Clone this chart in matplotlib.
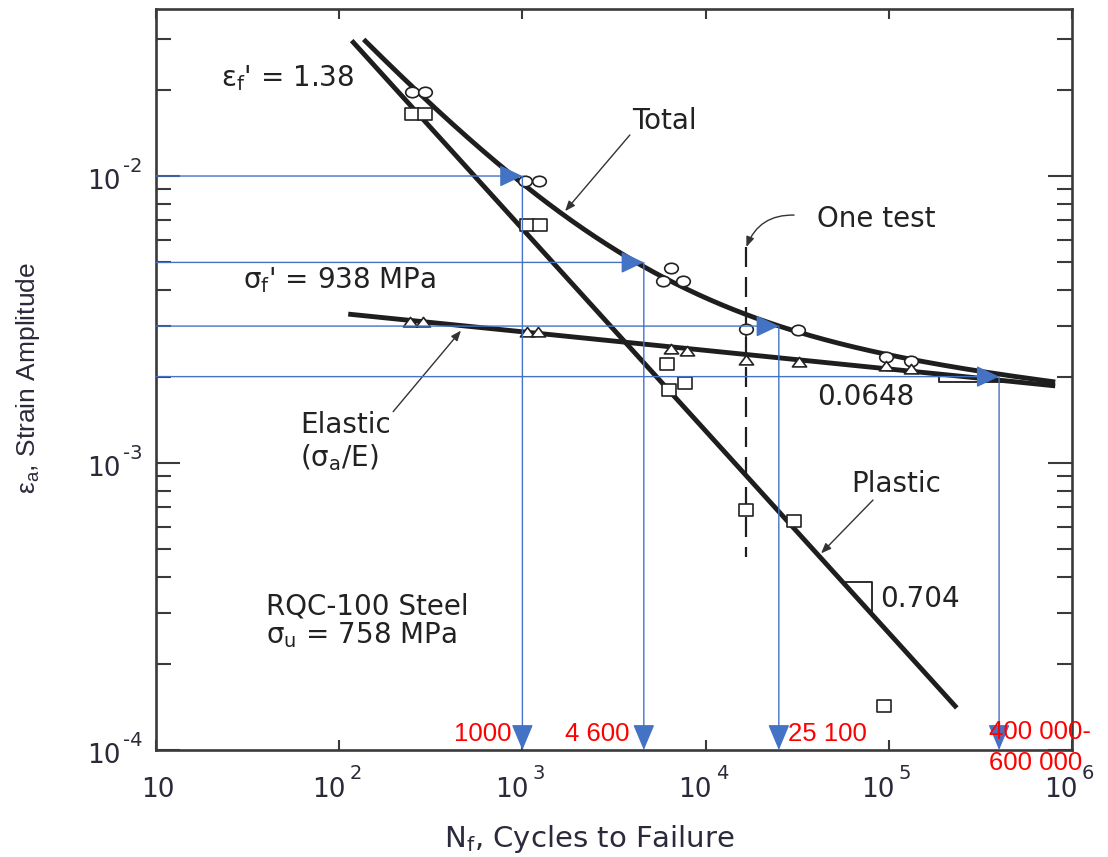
import numpy as np
import matplotlib
matplotlib.use("Agg")
import matplotlib.pyplot as plt
from matplotlib.path import Path
from matplotlib.ticker import LogLocator, NullFormatter, NullLocator

plt.rcParams["font.family"] = ["DejaVu Sans"]
plt.rcParams["mathtext.fontset"] = "dejavusans"

# --- RQC-100 steel strain-life constants ---------------------------------
E_MPA = 200000.0      # elastic modulus, MPa
SIGMA_F = 938.0       # fatigue strength coefficient, MPa
B_EXP = -0.0648       # fatigue strength exponent
EPS_F = 1.38          # fatigue ductility coefficient
C_EXP = -0.704        # fatigue ductility exponent

# --- test data: cycles to failure and strain amplitudes -------------------
total_N = [250, 294, 1030, 1230, 5850, 6470, 7530, 16700, 31900, 96600, 133000]
total_eps = [0.0196, 0.0196, 0.0096, 0.0096, 0.0043, 0.0048, 0.0043,
             0.00293, 0.0029, 0.00235, 0.00226]

plastic_N = [250, 294, 1060, 1250, 6140, 6310, 7730, 16700, 30200, 94200]
plastic_eps = [0.0165, 0.0165, 0.00675, 0.00675, 0.00221, 0.00179, 0.0019,
               0.000687, 0.000626, 0.000142]

elastic_N = [245, 287, 1057, 1209, 6470, 7960, 16700, 32300, 96600, 133000]
elastic_eps = [0.0031, 0.0031, 0.00285, 0.00285, 0.0025, 0.00245, 0.00229,
               0.00224, 0.00218, 0.00213]

# single test shown with its own marker column
one_test_N = 16700

# read-off levels (strain amplitude -> life)
read_eps = [0.01, 0.005, 0.003, 0.002]
read_N = [1000, 4600, 25100, 400000]

# axis ticks: base and exponent drawn separately
x_ticks = [10, 1e2, 1e3, 1e4, 1e5, 1e6]
x_tick_exp = ["", "2", "3", "4", "5", "6"]
y_ticks = [1e-4, 1e-3, 1e-2]
y_tick_exp = ["-4", "-3", "-2"]


def elastic(n):
    return SIGMA_F / E_MPA * (2.0 * np.asarray(n, dtype=float)) ** B_EXP


def plastic(n):
    return EPS_F * (2.0 * np.asarray(n, dtype=float)) ** C_EXP


def total(n):
    return elastic(n) + plastic(n)


INK = "#1e1e1e"
AXC = "#3a3a3a"
LAB = "#2a2a3a"
BLUE = "#4472C4"
RED = "#FF0000"

W, H = 1108, 857
fig = plt.figure(figsize=(W / 100, H / 100), dpi=100)
ax = fig.add_axes([156 / W, (H - 750) / H, 916 / W, (750 - 9.3) / H])
ax.set_xscale("log")
ax.set_yscale("log")
ax.set_xlim(10, 1e6)
ax.set_ylim(1e-4, 0.0381)

for sp in ax.spines.values():
    sp.set_linewidth(1.9)
    sp.set_color(AXC)

ax.set_xticks(x_ticks)
ax.xaxis.set_minor_locator(NullLocator())
ax.set_yticks(y_ticks)
ax.yaxis.set_minor_locator(LogLocator(base=10, subs=np.arange(2, 10)))
ax.yaxis.set_minor_formatter(NullFormatter())
ax.tick_params(axis="x", which="major", direction="in", length=7, width=1.5,
               color=AXC, top=True, bottom=True, labelbottom=False)
ax.tick_params(axis="y", which="major", direction="in", length=17, width=1.5,
               color=AXC, left=True, right=True, labelleft=False)
ax.tick_params(axis="y", which="minor", direction="in", length=11, width=1.5,
               color=AXC, left=True, right=True)

# tick labels: "10" with a raised exponent
tk = dict(textcoords="offset pixels", va="baseline", color=LAB, annotation_clip=False)
for v, e in zip(x_ticks, x_tick_exp):
    xy = dict(xy=(v, 0), xycoords=("data", "axes fraction"))
    if e:
        ax.annotate("10", xytext=(6, -47), ha="right", fontsize=19, **xy, **tk)
        ax.annotate(e, xytext=(10, -29), ha="left", fontsize=14, **xy, **tk)
    else:
        ax.annotate("10", xytext=(2, -47), ha="center", fontsize=19, **xy, **tk)
for v, e in zip(y_ticks, y_tick_exp):
    xy = dict(xy=(0, v), xycoords=("axes fraction", "data"))
    ax.annotate("10", xytext=(-35, -13), ha="right", fontsize=19, **xy, **tk)
    ax.annotate(e, xytext=(-33, 4), ha="left", fontsize=14, **xy, **tk)

# --- fitted strain-life curves ---------------------------------------------
n_pl = np.logspace(np.log10(117), np.log10(2.35e5), 200)
n_el = np.logspace(np.log10(112), np.log10(8.1e5), 200)
n_tot = np.logspace(np.log10(136), np.log10(8.1e5), 300)
ax.plot(n_pl, plastic(n_pl), color=INK, lw=3.5, solid_capstyle="butt", zorder=3)
ax.plot(n_el, elastic(n_el), color=INK, lw=3.5, solid_capstyle="butt", zorder=3)
ax.plot(n_tot, total(n_tot), color=INK, lw=3.5, solid_capstyle="butt", zorder=3)

# slope triangles
n1, n2 = 55800, 80500
ax.plot([n1, n2, n2], [plastic(n1), plastic(n1), plastic(n2)], color=INK, lw=1.3, zorder=3)
m1, m2 = 1.87e5, 5.33e5
ax.plot([m1, m1, m2], [elastic(m1), elastic(m2), elastic(m2)], color=INK, lw=1.3, zorder=3)

# "one test" column
ax.plot([one_test_N, one_test_N], [0.00566, 0.00047], color=INK, lw=1.6,
        linestyle=(0, (9, 4.5)), zorder=3)
ax.plot([one_test_N, one_test_N], [0.00293, 0.00229], color=INK, lw=1.2, zorder=3)

# --- markers ---------------------------------------------------------------
uc = Path.unit_circle()
ellipse = Path(uc.vertices * np.array([1.0, 0.77]), uc.codes)
rect = Path([(-1, -0.75), (1, -0.75), (1, 0.75), (-1, 0.75), (-1, -0.75)],
            [Path.MOVETO, Path.LINETO, Path.LINETO, Path.LINETO, Path.CLOSEPOLY])
tri = Path([(-1, -0.62), (1, -0.62), (0, 0.72), (-1, -0.62)],
           [Path.MOVETO, Path.LINETO, Path.LINETO, Path.CLOSEPOLY])

mk = dict(ls="none", mfc="white", mec="#222222", mew=1.2, zorder=4)
ax.plot(total_N, total_eps, marker=ellipse, ms=9.8, **mk)
ax.plot(plastic_N, plastic_eps, marker=rect, ms=10.6, **mk)
ax.plot(elastic_N, elastic_eps, marker=tri, ms=10.2, **mk)

# --- read-off arrows -------------------------------------------------------
arw = dict(color=BLUE, lw=1.0, shrinkA=0, shrinkB=0, mutation_scale=26)
for e, n in zip(read_eps, read_N):
    ax.annotate("", xy=(n, e), xycoords="data", xytext=(0, e),
                textcoords=("axes fraction", "data"),
                arrowprops=dict(arw, arrowstyle="-|>,head_length=0.55,head_width=0.26"),
                zorder=5)
    ax.annotate("", xy=(n, 0), xycoords=("data", "axes fraction"), xytext=(n, e),
                textcoords="data",
                arrowprops=dict(arw, arrowstyle="-|>,head_length=0.62,head_width=0.26"),
                zorder=5)

red_kw = dict(color=RED, fontsize=18.5, family=["Liberation Sans", "DejaVu Sans"],
              xycoords=("data", "axes fraction"), textcoords="offset pixels",
              va="baseline", zorder=6, annotation_clip=False)
ax.annotate("1000", xy=(read_N[0], 0), xytext=(-11, 9), ha="right", **red_kw)
ax.annotate("4 600", xy=(read_N[1], 0), xytext=(-14, 9), ha="right", **red_kw)
ax.annotate("25 100", xy=(read_N[2], 0), xytext=(9, 9), ha="left", **red_kw)
ax.annotate("400 000-", xy=(read_N[3], 0), xytext=(-10, 11), ha="left", **red_kw)
ax.annotate("600 000", xy=(read_N[3], 0), xytext=(-10, -20), ha="left", **red_kw)

# --- annotations -----------------------------------------------------------
TXT = "#222222"
fs = 20


def axpos(px, py):
    return ((px - 156) / 916, (750 - py) / 740.7)


ax.text(*axpos(288, 86), r"$\mathregular{ε_f}$' = 1.38", ha="center", va="baseline",
        fontsize=fs, color=TXT, transform=ax.transAxes)
ax.text(*axpos(664, 129), "Total", ha="center", va="baseline",
        fontsize=fs, color=TXT, transform=ax.transAxes)
ax.text(*axpos(876, 227), "One test", ha="center", va="baseline",
        fontsize=fs, color=TXT, transform=ax.transAxes)
ax.text(*axpos(339, 288), r"$\mathregular{σ_f}$' = 938 MPa", ha="center", va="baseline",
        fontsize=fs, color=TXT, transform=ax.transAxes)
ax.text(*axpos(300, 411), "Elastic\n(" + r"$\mathregular{σ_a}$" + "/E)", ha="left", va="top",
        fontsize=fs, color=TXT, transform=ax.transAxes, linespacing=1.15)
ax.text(*axpos(866, 405), "0.0648", ha="center", va="baseline",
        fontsize=fs, color=TXT, transform=ax.transAxes)
ax.text(*axpos(896, 492), "Plastic", ha="center", va="baseline",
        fontsize=fs, color=TXT, transform=ax.transAxes)
ax.text(*axpos(880, 607), "0.704", ha="left", va="baseline",
        fontsize=fs, color=TXT, transform=ax.transAxes)
ax.text(*axpos(266, 615), "RQC-100 Steel", ha="left", va="baseline",
        fontsize=fs, color=TXT, transform=ax.transAxes)
ax.text(*axpos(266, 643), r"$\mathregular{σ_u}$ = 758 MPa", ha="left", va="baseline",
        fontsize=fs, color=TXT, transform=ax.transAxes)

thin = dict(arrowstyle="-|>,head_length=0.5,head_width=0.2", color="#333333", lw=1.0,
            shrinkA=0, shrinkB=0, mutation_scale=12)
ax.annotate("", xy=(1710, total(1710) * 1.04), xytext=(3860, 0.0139), arrowprops=thin, zorder=4)
ax.annotate("", xy=(462, elastic(462) * 0.96), xytext=(197, 0.00151), arrowprops=thin, zorder=4)
ax.annotate("", xy=(42700, plastic(42700) * 1.04), xytext=(82000, 0.000743), arrowprops=thin, zorder=4)
ax.annotate("", xy=(one_test_N, 0.00566), xytext=(30400, 0.00731),
            arrowprops=dict(thin, connectionstyle="arc3,rad=0.35"), zorder=4)

# axis titles
fig.text(589 / W, (H - 847) / H, r"$\mathregular{N_f}$, Cycles to Failure", ha="center",
         va="baseline", fontsize=21, color=LAB)
fig.text(28 / W, 1 - 378 / H, r"$\mathregular{ε_a}$, Strain Amplitude", ha="center",
         va="center", rotation=90, fontsize=19, color=LAB,
         family=["Liberation Sans", "DejaVu Sans"])

fig.savefig("out.png", dpi=100)
